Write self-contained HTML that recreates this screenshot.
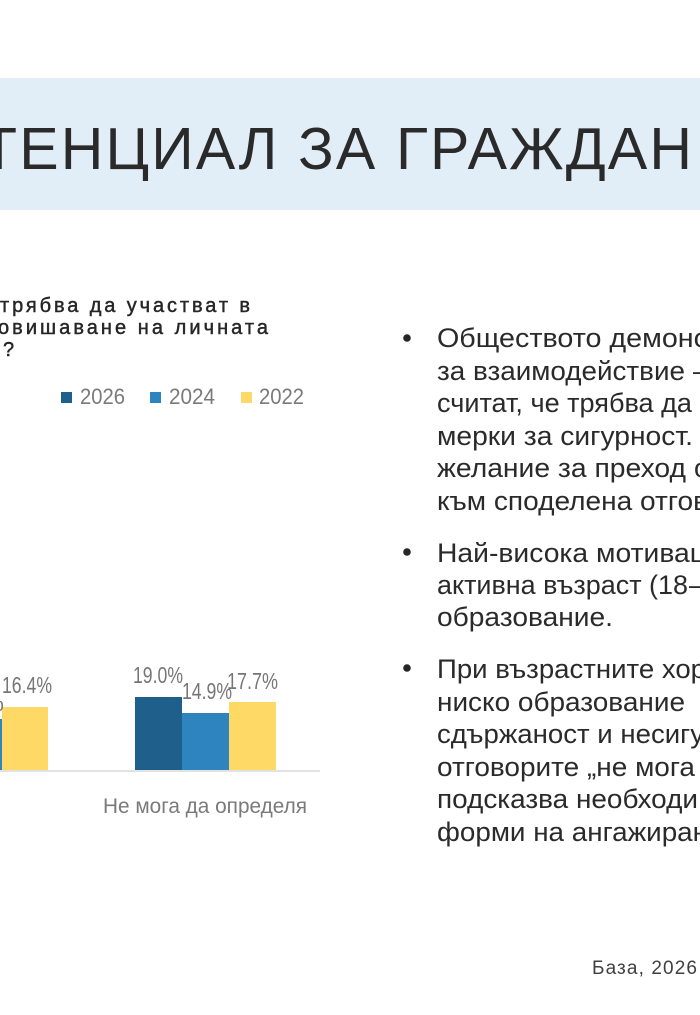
<!DOCTYPE html>
<html><head><meta charset="utf-8"><style>
html,body{margin:0;padding:0;background:#fff;width:700px;height:1015px;overflow:hidden}
svg{display:block}
text{font-family:"Liberation Sans","DejaVu Sans",sans-serif}
</style></head><body>
<svg width="700" height="1015" viewBox="0 0 700 1015" xmlns="http://www.w3.org/2000/svg">
<rect x="0" y="0" width="700" height="1015" fill="#fff"/>
<rect x="0" y="78" width="700" height="132" fill="#e1eef8"/>
<text x="-19" y="169" font-size="59" fill="#2a2a2a" textLength="711" lengthAdjust="spacing">ТЕНЦИАЛ ЗА ГРАЖДАН</text>

<g fill="#262626" font-size="20" stroke="#262626" stroke-width="0.45">
<text x="0" y="312" textLength="250" lengthAdjust="spacing">трябва да участват в</text>
<text x="-2" y="334" textLength="270" lengthAdjust="spacing">овишаване на личната</text>
<text x="3" y="356">?</text>
</g>

<g font-size="22" fill="#7a7a7a">
<rect x="61" y="392" width="11" height="11" fill="#1f5f8b"/>
<text x="80" y="404" textLength="45" lengthAdjust="spacingAndGlyphs">2026</text>
<rect x="150" y="392" width="11" height="11" fill="#2e84be"/>
<text x="169" y="404" textLength="46" lengthAdjust="spacingAndGlyphs">2024</text>
<rect x="241" y="392" width="11" height="11" fill="#ffd966"/>
<text x="259" y="404" textLength="45" lengthAdjust="spacingAndGlyphs">2022</text>
</g>

<rect x="0" y="719" width="2" height="51" fill="#2e84be"/>
<rect x="2" y="707" width="46" height="63" fill="#ffd966"/>
<rect x="135" y="697" width="47" height="73" fill="#1f5f8b"/>
<rect x="182" y="713" width="47" height="57" fill="#2e84be"/>
<rect x="229" y="702" width="47" height="68" fill="#ffd966"/>
<line x1="0" y1="771" x2="320" y2="771" stroke="#d9d9d9" stroke-width="1.6"/>

<g font-size="23" fill="#767676">
<text x="4" y="711" text-anchor="end">%</text>
<text x="2" y="693" textLength="50" lengthAdjust="spacingAndGlyphs">16.4%</text>
<text x="133" y="683" textLength="50" lengthAdjust="spacingAndGlyphs">19.0%</text>
<text x="182" y="699" textLength="50" lengthAdjust="spacingAndGlyphs">14.9%</text>
<text x="227" y="689" textLength="51" lengthAdjust="spacingAndGlyphs">17.7%</text>
</g>
<text x="103" y="813" font-size="21" fill="#7a7a7a" textLength="204" lengthAdjust="spacingAndGlyphs">Не мога да определя</text>

<g fill="#262626">
<circle cx="407" cy="338" r="3.8"/>
<circle cx="407" cy="552" r="3.8"/>
<circle cx="407" cy="668" r="3.8"/>
</g>
<g font-size="27" fill="#2a2a2a">
<text x="437" y="347" textLength="271" lengthAdjust="spacingAndGlyphs">Обществото демонс</text>
<text x="437" y="380" textLength="248" lengthAdjust="spacingAndGlyphs">за взаимодействие</text>
<text x="693" y="380">–</text>
<text x="437" y="412" textLength="255" lengthAdjust="spacingAndGlyphs">считат, че трябва да</text>
<text x="437" y="445" textLength="256" lengthAdjust="spacingAndGlyphs">мерки за сигурност.</text>
<text x="437" y="477" textLength="249" lengthAdjust="spacingAndGlyphs">желание за преход</text>
<text x="694" y="477">о</text>
<text x="437" y="510" textLength="271" lengthAdjust="spacingAndGlyphs">към споделена отгов</text>

<text x="437" y="562" textLength="269" lengthAdjust="spacingAndGlyphs">Най-висока мотивац</text>
<text x="437" y="594" textLength="251" lengthAdjust="spacingAndGlyphs">активна възраст (18</text>
<text x="689" y="594">–</text>
<text x="437" y="626" textLength="176" lengthAdjust="spacingAndGlyphs">образование.</text>

<text x="437" y="678" textLength="269" lengthAdjust="spacingAndGlyphs">При възрастните хор</text>
<text x="437" y="711" textLength="248" lengthAdjust="spacingAndGlyphs">ниско образование</text>
<text x="437" y="743" textLength="267" lengthAdjust="spacingAndGlyphs">сдържаност и несигу</text>
<text x="437" y="776" textLength="258" lengthAdjust="spacingAndGlyphs">отговорите „не мога</text>
<text x="437" y="808" textLength="261" lengthAdjust="spacingAndGlyphs">подсказва необходи</text>
<text x="437" y="841" textLength="271" lengthAdjust="spacingAndGlyphs">форми на ангажиран</text>
</g>

<text x="592" y="974" font-size="19" fill="#404040" textLength="105" lengthAdjust="spacing">База, 2026</text>
</svg>
</body></html>
